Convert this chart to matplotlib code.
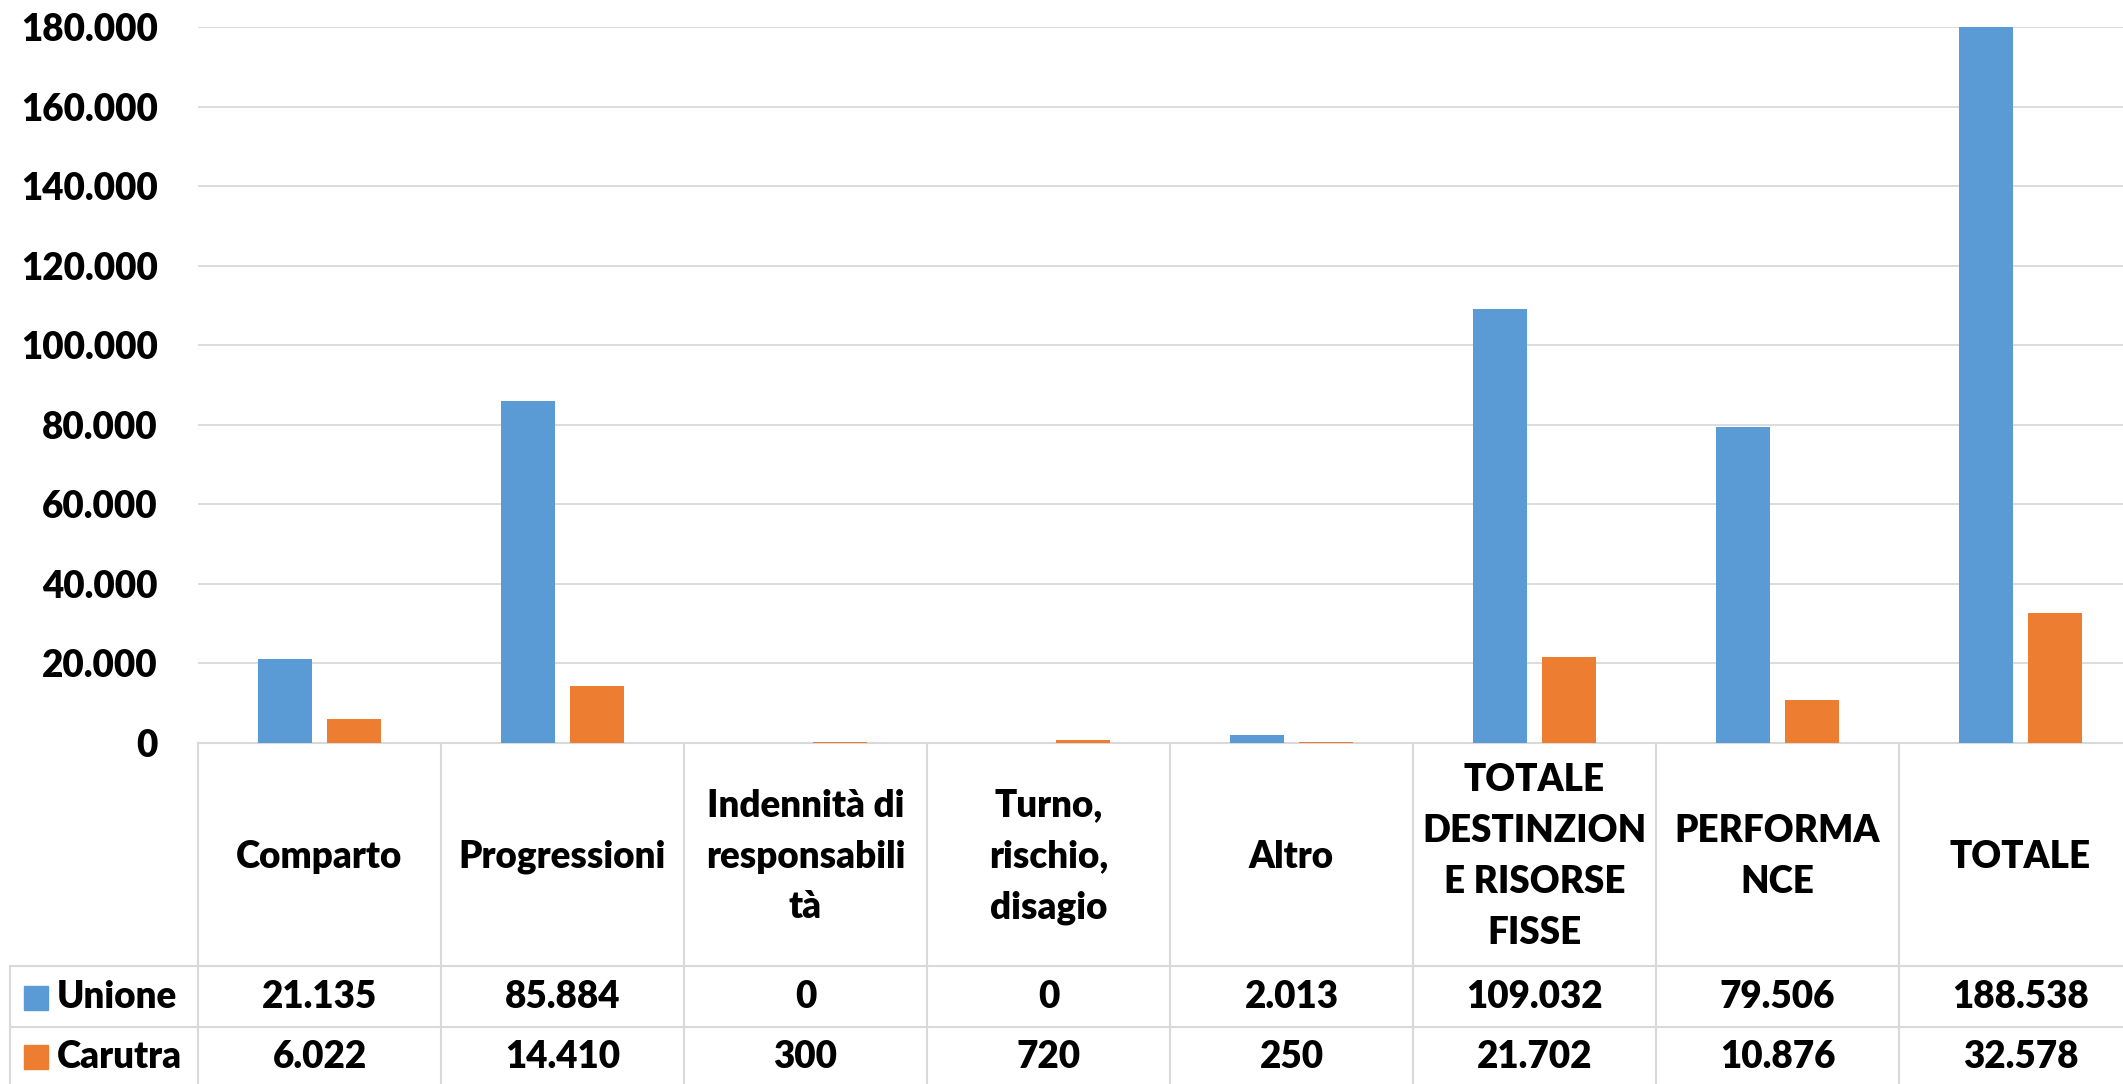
import numpy as np
import matplotlib
matplotlib.use("Agg")
from matplotlib import pyplot as plt
from matplotlib.patches import Rectangle

# data
categorie = ["Comparto", "Progressioni", "Indennità di\nresponsabili\ntà",
             "Turno,\nrischio,\ndisagio", "Altro",
             "TOTALE\nDESTINZION\nE RISORSE\nFISSE", "PERFORMA\nNCE", "TOTALE"]
serie = ["Unione", "Carutra"]
unione = [21135, 85884, 0, 0, 2013, 109032, 79506, 188538]
carutra = [6022, 14410, 300, 720, 250, 21702, 10876, 32578]
yticks = np.arange(0, 180001, 20000)

colori = ["#5b9bd5", "#ed7d31"]
grigio = "#d9d9d9"
plt.rcParams['font.family'] = ['Lato', 'DejaVu Sans']
plt.rcParams['font.weight'] = 'heavy'
fs = 26.5
fw = 'heavy'

def fmt(v):
    return f"{v:,}".replace(",", ".")

# layout in pixels (figure is 2123 x 1084)
W, H = 2123, 1084
x0 = 198          # left edge of first category column
cat_w = 243       # width of one category column
y_base = 743      # y=0 line
y_top = 27        # y=180000 line
row1, row2 = 966, 1027
x_left_tab = 10

fig = plt.figure(figsize=(W / 100, H / 100), dpi=100)

# bar chart
ax = fig.add_axes([x0 / W, (H - y_base) / H, (W - x0) / W, (y_base - y_top) / H])
x = np.arange(len(categorie)) + 0.5
bw = 0.222
off = 0.142
ax.bar(x - off, unione, bw, color=colori[0], zorder=3)
ax.bar(x + off, carutra, bw, color=colori[1], zorder=3)
ax.set_xlim(0, (W - x0) / cat_w)
ax.set_ylim(0, 180000)
ax.set_yticks(yticks)
ax.set_yticklabels([fmt(v) for v in yticks], fontsize=fs, fontweight=fw)
ax.tick_params(axis='y', length=0, pad=29)
ax.set_xticks([])
ax.grid(axis='y', color=grigio, lw=1.3, zorder=0)
for s in ["top", "right", "left"]:
    ax.spines[s].set_visible(False)
ax.spines["bottom"].set_color(grigio)
ax.spines["bottom"].set_linewidth(1.5)

# data table below
tab = fig.add_axes([0, 0, 1, (H - y_base) / H])
tab.set_xlim(-x0 / cat_w, (W - x0) / cat_w)
tab.set_ylim(H, y_base)
tab.axis("off")
xl = (x_left_tab - x0) / cat_w
n = len(categorie)
for k in range(n + 1):
    tab.plot([k, k], [y_base, H + 10], color=grigio, lw=1.5, clip_on=False)
tab.plot([xl, xl], [row1, H + 10], color=grigio, lw=1.5)
for yy in [row1, row2]:
    tab.plot([xl, n], [yy, yy], color=grigio, lw=1.5)

for i, lab in enumerate(categorie):
    tab.text(i + 0.5, (y_base + row1) / 2 + 2, lab, ha='center', va='center',
             fontsize=fs, fontweight=fw, linespacing=1.6)
    tab.text(i + 0.5, (row1 + row2) / 2 + 1, fmt(unione[i]), ha='center', va='center',
             fontsize=fs, fontweight=fw)
    tab.text(i + 0.5, (row2 + H) / 2 + 1, fmt(carutra[i]), ha='center', va='center',
             fontsize=fs, fontweight=fw)

for j, (nome, yc) in enumerate(zip(serie, [(row1 + row2) / 2, (row2 + H) / 2])):
    sq = 24
    tab.add_patch(Rectangle(((24 - x0) / cat_w, yc - sq / 2 + 1), sq / cat_w, sq,
                            color=colori[j]))
    tab.text((57 - x0) / cat_w, yc + 1, nome, ha='left', va='center',
             fontsize=fs, fontweight=fw)

fig.savefig("out.png", dpi=100)
